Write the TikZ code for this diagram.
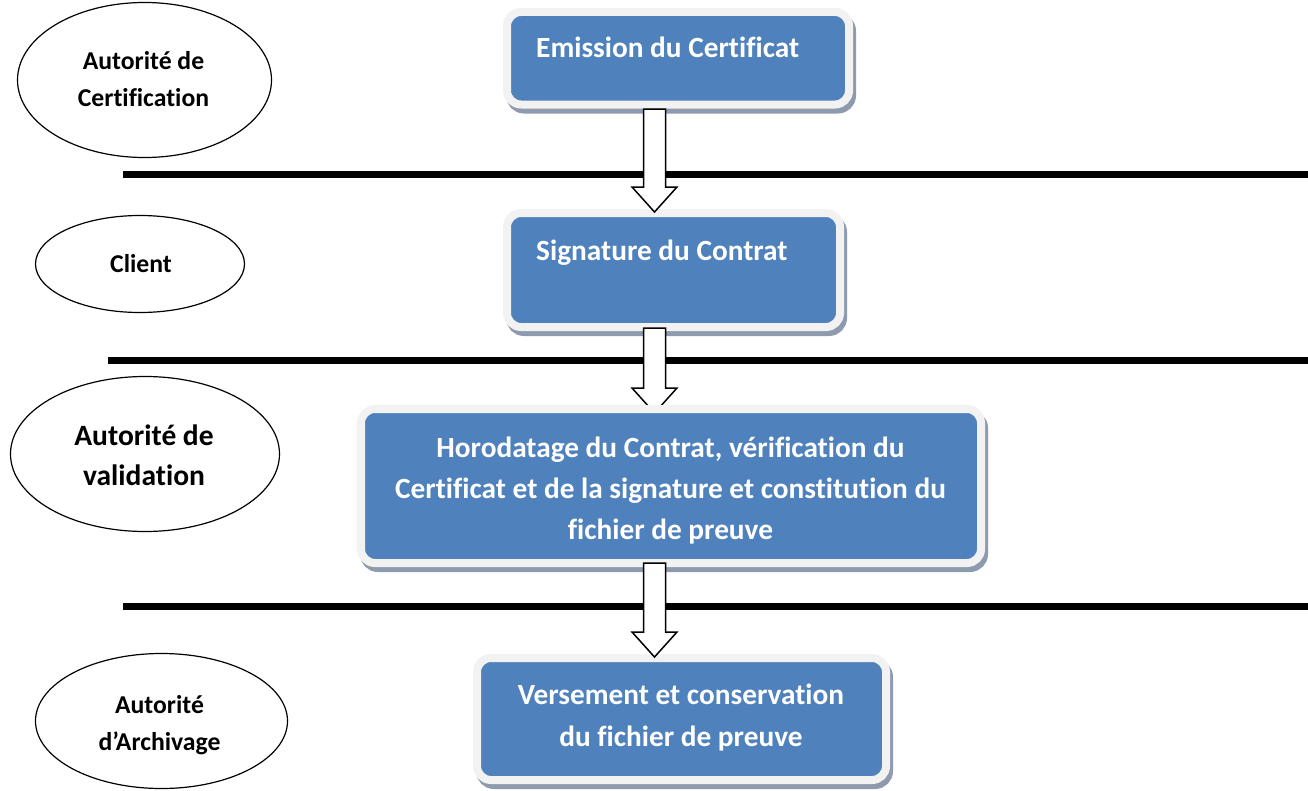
\documentclass[tikz,border=0pt]{standalone}
\usepackage{fontspec}
\setmainfont[Ligatures=NoCommon]{Carlito}
\usetikzlibrary{calc,shapes.geometric}
\definecolor{boxblue}{HTML}{4F81BD}
\definecolor{rimgray}{HTML}{F2F2F2}
\definecolor{shadowgray}{HTML}{8E9BAE}
\begin{document}
\begin{tikzpicture}[x=1bp,y=-1bp,
  stepbox/.style={rectangle, rounded corners=14bp, fill=boxblue, draw=rimgray, line width=8bp, inner sep=0pt, outer sep=0pt,
    preaction={draw=shadowgray, fill=shadowgray, transform canvas={shift={(3bp,-5bp)}}}},
  lane/.style={ellipse, draw=black, line width=1.2bp, fill=white, inner sep=0pt, outer sep=0pt},
  divider/.style={line width=7bp, draw=black},
  blockarrow/.style={draw=black, line width=1.5bp, fill=white, line join=miter},
  boxtxt/.style={text=white, font=\bfseries\fontsize{29.3bp}{35bp}\selectfont, inner sep=0pt, anchor=base},
  lanetxt/.style={text=black, font=\bfseries\fontsize{25.7bp}{31bp}\selectfont, inner sep=0pt, anchor=base},
  lanetxtbig/.style={text=black, font=\bfseries\fontsize{29.5bp}{35bp}\selectfont, inner sep=0pt, anchor=base}]
\useasboundingbox (0,0) rectangle (1308,790);

% separators
\coordinate (d1a) at (123,174.5); \coordinate (d1b) at (1308,174.5);
\coordinate (d2a) at (108,360);   \coordinate (d2b) at (1308,360);
\coordinate (d3a) at (123,606.5); \coordinate (d3b) at (1308,606.5);
\draw[divider] (d1a) -- (d1b);
\draw[divider] (d2a) -- (d2b);
\draw[divider] (d3a) -- (d3b);

% lanes (actors)
\node[lane, minimum width=254bp, minimum height=155bp] (e1) at (144.5,80) {};
\node[lane, minimum width=209bp, minimum height=97bp]  (e2) at (140,264) {};
\node[lane, minimum width=269bp, minimum height=155bp] (e3) at (145,454) {};
\node[lane, minimum width=252bp, minimum height=135bp] (e4) at (161.5,721) {};

% process boxes
\coordinate (ax) at (654.5,0);
\node[stepbox, minimum width=342bp, minimum height=92.5bp] (b1) at (678,58.25) {};
\node[stepbox, minimum width=333bp, minimum height=114bp] (b2) at (673.5,270) {};
\draw[blockarrow] let \p1=($(ax |- b1.south)+(0,4.5)$), \p2=($(ax |- b2.north)+(0,-1)$) in
  (\x1-11bp,\y1) -- (\x1-11bp,\y2+25bp) -- (\x1-22.5bp,\y2+25bp) -- (\x2,\y2)
  -- (\x1+22.5bp,\y2+25bp) -- (\x1+11bp,\y2+25bp) -- (\x1+11bp,\y1) -- cycle;
\coordinate (b3c) at (671,486);
\node[rectangle, minimum width=620bp, minimum height=154bp, inner sep=0pt, outer sep=0pt] (b3) at (b3c) {};
\draw[blockarrow] let \p1=($(ax |- b2.south)+(0,1)$), \p2=($(ax |- b3.north)+(0,4)$) in
  (\x1-11bp,\y1) -- (\x1-11bp,\y2+25bp) -- (\x1-22.5bp,\y2+25bp) -- (\x2,\y2)
  -- (\x1+22.5bp,\y2+25bp) -- (\x1+11bp,\y2+25bp) -- (\x1+11bp,\y1) -- cycle;
\node[stepbox, minimum width=620bp, minimum height=154bp] (b3box) at (b3c) {};
\node[stepbox, minimum width=409bp, minimum height=122bp] (b4) at (681.5,719) {};
\draw[blockarrow] let \p1=($(ax |- b3.south)+(0,0)$), \p2=($(ax |- b4.north)+(0,-1)$) in
  (\x1-11bp,\y1) -- (\x1-11bp,\y2+25bp) -- (\x1-22.5bp,\y2+25bp) -- (\x2,\y2)
  -- (\x1+22.5bp,\y2+25bp) -- (\x1+11bp,\y2+25bp) -- (\x1+11bp,\y1) -- cycle;

% box texts
\node[boxtxt, anchor=base west] (t1) at (536,58) {Emission du Certificat};
\node[boxtxt, anchor=base west] (t2) at (536,260) {Signature du Contrat};
\node[boxtxt] (t3a) at (670.5,457) {Horodatage du Contrat, vérification du};
\node[boxtxt] (t3b) at (670.5,498) {Certificat et de la signature et constitution du};
\node[boxtxt] (t3c) at (670.5,539) {fichier de preuve};
\node[boxtxt] (t4a) at (681,704) {Versement et conservation};
\node[boxtxt] (t4b) at (681,746) {du fichier de preuve};

% lane texts
\node[lanetxt] (te1a) at (143.5,69) {Autorité de};
\node[lanetxt] (te1b) at (143.5,106) {Certification};
\node[lanetxt] (te2) at (141,272) {Client};
\node[lanetxtbig] (te3a) at (144,445) {Autorité de};
\node[lanetxtbig] (te3b) at (144,485) {validation};
\node[lanetxt] (te4a) at (159.5,713) {Autorité};
\node[lanetxt] (te4b) at (159.5,750) {d’Archivage};
\end{tikzpicture}
\end{document}
